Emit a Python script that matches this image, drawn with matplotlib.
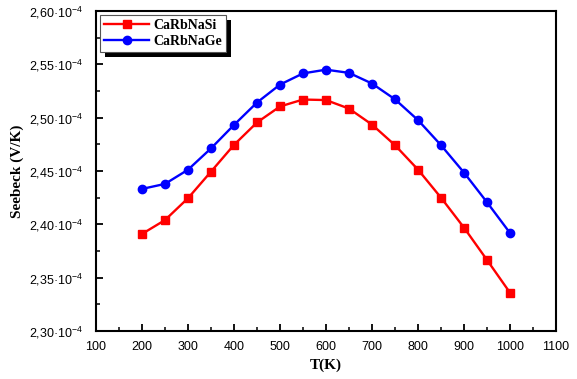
import numpy as np
import matplotlib
matplotlib.use('Agg')
from matplotlib import pyplot as plt
from matplotlib.patches import Rectangle
from matplotlib.ticker import MultipleLocator, FuncFormatter

plt.rcParams['font.family'] = 'Liberation Sans'
plt.rcParams['mathtext.fontset'] = 'custom'
plt.rcParams['mathtext.rm'] = 'Liberation Sans'
plt.rcParams['mathtext.it'] = 'Liberation Sans'

T = [200, 250, 300, 350, 400, 450, 500, 550, 600, 650, 700, 750, 800, 850, 900, 950, 1000]
si = [2.391, 2.404, 2.4245, 2.4494, 2.4745, 2.4955, 2.5105, 2.5170, 2.5165, 2.5085,
      2.4935, 2.4742, 2.4513, 2.4250, 2.3969, 2.3666, 2.3359]
ge = [2.4332, 2.4379, 2.4512, 2.4712, 2.4932, 2.5142, 2.5310, 2.5415, 2.5450, 2.5420,
      2.5320, 2.5172, 2.4977, 2.4742, 2.4485, 2.4207, 2.3919]
si = np.array(si) * 1e-4
ge = np.array(ge) * 1e-4

fig = plt.figure(figsize=(5.77, 3.79), dpi=100)
ax = fig.add_axes([96/577, 1 - 331/379, 460/577, 320/379])

ax.plot(T, si, color='#ff0000', marker='s', markersize=5.5, lw=1.7, label='CaRbNaSi')
ax.plot(T, ge, color='#0000ff', marker='o', markersize=6, lw=1.7, label='CaRbNaGe')

ax.set_xlim(100, 1100)
ax.set_ylim(2.30e-4, 2.60e-4)
ax.xaxis.set_major_locator(MultipleLocator(100))
ax.xaxis.set_minor_locator(MultipleLocator(50))
ax.yaxis.set_major_locator(MultipleLocator(0.05e-4))
ax.yaxis.set_minor_locator(MultipleLocator(0.025e-4))

def yfmt(v, pos):
    return ('%.2f' % (v * 1e4)).replace('.', ',') + '·10$^{-4}$'

ax.yaxis.set_major_formatter(FuncFormatter(yfmt))

for s in ax.spines.values():
    s.set_linewidth(1.5)
ax.tick_params(which='major', direction='in', length=5, width=1.3, labelsize=9, pad=7)
ax.tick_params(axis='y', which='major', pad=9)
ax.tick_params(which='minor', direction='in', length=3, width=1.1)
ax.tick_params(top=False, right=False, which='both')

ax.set_xlabel('T(K)', family='Liberation Serif', fontweight='bold', fontsize=11, labelpad=4)
ax.set_ylabel('Seebeck (V/K)', family='Liberation Serif', fontweight='bold', fontsize=11, labelpad=4)

leg = ax.legend(loc='upper left', prop={'family': 'Liberation Serif', 'weight': 'bold', 'size': 10},
                fancybox=False, shadow=False, framealpha=1,
                edgecolor='#555555', handlelength=3.2, borderpad=0.3, labelspacing=0.2,
                handletextpad=0.3, borderaxespad=0.3)
leg.get_frame().set_linewidth(0.8)

# black offset shadow behind the legend box (bigger than the built-in one)
fig.canvas.draw()
bb = leg.get_frame().get_window_extent().transformed(ax.transAxes.inverted())
dx, dy = 5 / 460, 5 / 320
ax.add_patch(Rectangle((bb.x0 + dx, bb.y0 - dy), bb.width, bb.height, transform=ax.transAxes,
                       facecolor='black', edgecolor='none', zorder=leg.get_zorder() - 0.1,
                       clip_on=False))

plt.savefig('out.png', dpi=100)
